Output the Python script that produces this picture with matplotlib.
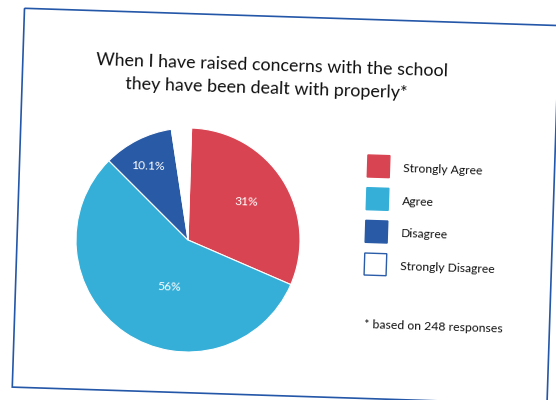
import matplotlib
matplotlib.use("Agg")
import matplotlib.pyplot as plt
from matplotlib.patches import Rectangle
from matplotlib.transforms import Affine2D

# data
categories = ['Strongly Agree', 'Agree', 'Disagree', 'Strongly Disagree']
values = [31, 56, 10.1, 2.9]
pct_labels = ['31%', '56%', '10.1%', '']
colors = ['#D94452', '#35AFD8', '#295AA6', '#FFFFFF']
title_lines = ['When I have raised concerns with the school',
               'they have been dealt with properly*']
footnote = '* based on 248 responses'

FONT = ['Lato', 'DejaVu Sans']
ANGLE = 1.85          # whole card is tilted slightly clockwise
ORIGIN = (24.5, 8.3)  # top-left corner of the card in pixels

fig = plt.figure(figsize=(5.56, 4.0), dpi=100)
ax = fig.add_axes([0, 0, 1, 1])

# frame of the card: u to the right, v downward, then rotated and moved
rot = Affine2D().rotate_deg(ANGLE).translate(*ORIGIN) + ax.transData

center = (170.9, 226.3)
radius = 112
wedges, _ = ax.pie(values, colors=colors, startangle=-90, counterclock=True,
                   radius=radius, center=center,
                   wedgeprops=dict(edgecolor='white', linewidth=0.8))
for w in wedges:
    w.set_transform(rot)

# percentage labels (placed like the original best-fit labels)
offsets = [(56.7, -39.8), (-17.5, 47.6), (-42.4, -72.7), (0, 0)]
for lab, (dx, dy) in zip(pct_labels, offsets):
    if lab:
        ax.text(center[0] + dx, center[1] + dy, lab, transform=rot,
                rotation=-ANGLE, rotation_mode='anchor',
                ha='center', va='center', color='white', fontsize=8.7,
                family=FONT)

# card border
ax.add_patch(Rectangle((0, 0), 535, 379, transform=rot, fill=False,
                       edgecolor='#2457A8', linewidth=1.2))

# title
title_u = [249, 244]
for i, line in enumerate(title_lines):
    ax.text(title_u[i], 49 + i * 23, line, transform=rot, rotation=-ANGLE,
            rotation_mode='anchor', ha='center', va='center',
            fontsize=12.9, color='#111111', family=FONT)

# legend
for i, (cat, col) in enumerate(zip(categories, colors)):
    v = 135.5 + i * 32.7
    ax.add_patch(Rectangle((348, v), 22, 22, transform=rot, facecolor=col,
                           edgecolor='#2A5CA8' if col == '#FFFFFF' else col,
                           linewidth=1.0))
    ax.text(384, v + 12.5, cat, transform=rot, rotation=-ANGLE,
            rotation_mode='anchor', ha='left', va='center',
            fontsize=8.7, color='#111111', family=FONT)

ax.text(349.5, 304.6, footnote, transform=rot, rotation=-ANGLE,
        rotation_mode='anchor', ha='left', va='center',
        fontsize=8.8, color='#111111', family=FONT)

ax.set_xlim(0, 556)
ax.set_ylim(400, 0)
ax.set_aspect('auto')
ax.axis('off')

fig.savefig('out.png', dpi=100)
